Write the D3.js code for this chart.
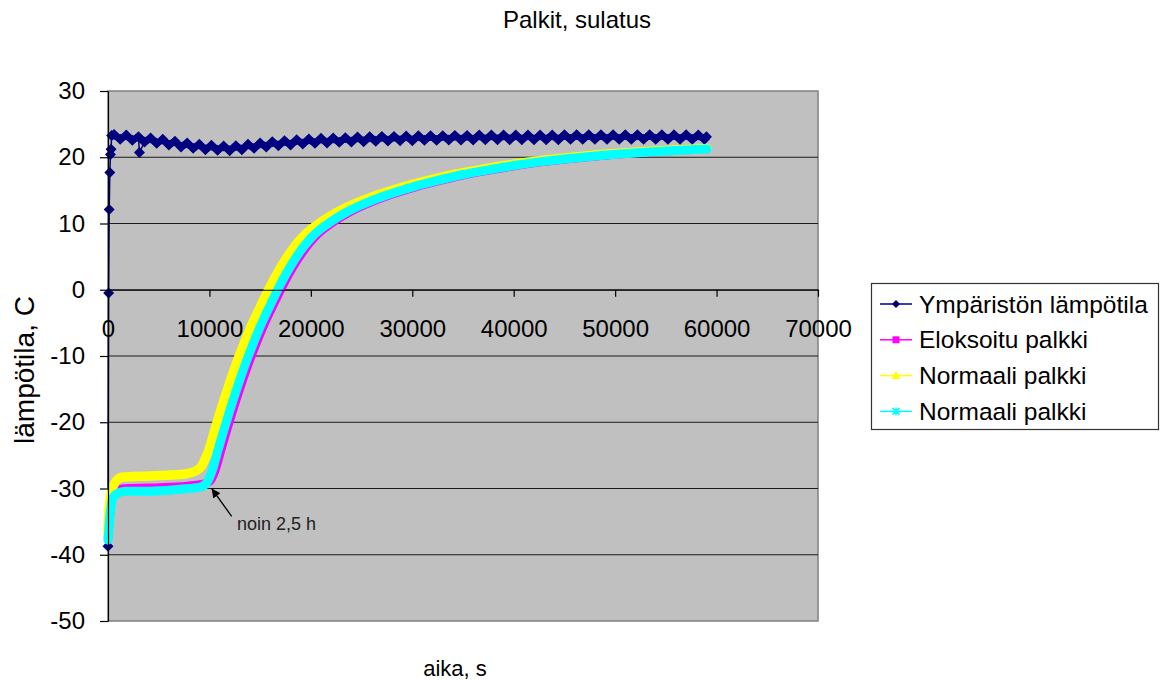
<!DOCTYPE html>
<html>
<head>
<meta charset="utf-8">
<script src="https://cdn.jsdelivr.net/npm/d3@7"></script>
<style>
  html, body { margin: 0; padding: 0; background: #fff; }
  svg { display: block; font-family: "Liberation Sans", Arial, sans-serif; }
</style>
</head>
<body>
<svg id="chart" width="1161" height="680"></svg>
<script>
// Tick values
const xTicks = [0, 10000, 20000, 30000, 40000, 50000, 60000, 70000];
const yTicks = [-50, -40, -30, -20, -10, 0, 10, 20, 30];

// Ambient temperature (s, °C)
const ambientTime = [0, 60, 120, 180, 240, 300, 360,
  600, 1200, 1800, 2400, 3000, 3100, 3600, 4200, 4800, 5400, 6000, 6600, 7200, 7800,
  8400, 9000, 9600, 10200, 10800, 11400, 12000, 12600, 13200, 13800, 14400, 15000,
  15600, 16200, 16800, 17400, 18000, 18600, 19200, 19800, 20400, 21000, 21600, 22200,
  22800, 23400, 24000, 24600, 25200, 25800, 26400, 27000, 27600, 28200, 28800, 29400,
  30000, 30600, 31200, 31800, 32400, 33000, 33600, 34200, 34800, 35400, 36000, 36600,
  37200, 37800, 38400, 39000, 39600, 40200, 40800, 41400, 42000, 42600, 43200, 43800,
  44400, 45000, 45600, 46200, 46800, 47400, 48000, 48600, 49200, 49800, 50400, 51000,
  51600, 52200, 52800, 53400, 54000, 54600, 55200, 55800, 56400, 57000, 57600, 58200,
  58800, 59000];
const ambientTemp = [-38.7, -0.5, 12.1, 17.7, 20.4, 21.2, 23.3,
  23.45, 22.70, 23.35, 22.55, 23.1, 20.7, 22.3, 22.9, 22.1, 22.7, 21.85, 22.4, 21.55, 22.15,
  21.35, 21.95, 21.15, 21.8, 21.05, 21.7, 21.0, 21.75, 21.15, 21.95, 21.35, 22.15,
  21.55, 22.35, 21.75, 22.5, 21.85, 22.65, 22.0, 22.75, 22.1, 22.85, 22.15, 22.9,
  22.25, 22.95, 22.3, 23.05, 22.35, 23.1, 22.4, 23.15, 22.45, 23.15, 22.5, 23.2,
  22.5, 23.25, 22.55, 23.25, 22.55, 23.25, 22.6, 23.3, 22.6, 23.3, 22.6, 23.35,
  22.65, 23.35, 22.65, 23.35, 22.65, 23.35, 22.65, 23.35, 22.65, 23.35, 22.65, 23.35,
  22.65, 23.4, 22.7, 23.4, 22.7, 23.4, 22.7, 23.4, 22.7, 23.4, 22.7, 23.4,
  22.7, 23.4, 22.7, 23.4, 22.7, 23.4, 22.7, 23.4, 22.7, 23.4, 22.7, 23.35,
  22.7, 23.1];

// Anodised beam (s, °C)
const eloxTime = [0, 150, 450, 990, 1680, 4140, 7100, 9070, 10060, 10550, 11150, 11740,
  12400, 13100, 13800, 14600, 15500, 16400, 17300, 18200, 19300, 20300, 21300, 22300,
  23800, 25300, 27800, 30300, 32800, 35300, 37800, 40300, 42800, 45300, 47800, 50300,
  52800, 55300, 57800, 59060];
const eloxTemp = [-37.5, -34.5, -31.0, -30.2, -30.0, -29.9, -29.7, -29.4, -28.9, -27.4, -24.2, -21.1,
  -17.8, -14.5, -11.4, -8.2, -4.9, -2.0, 0.8, 3.3, 5.9, 7.8, 9.2, 10.3,
  11.7, 12.8, 14.3, 15.5, 16.5, 17.4, 18.1, 18.75, 19.3, 19.75, 20.12, 20.45,
  20.72, 20.94, 21.13, 21.2];

// Normal beam, first sensor (s, °C)
const normalATime = [0, 100, 400, 790, 1380, 4140, 7100, 8580, 9240, 9760, 9950, 10540,
  11200, 11900, 12600, 13400, 14300, 15200, 16100, 17000, 18100, 19100, 20100, 21100,
  22600, 24100, 26600, 29100, 31600, 34100, 36600, 39100, 41600, 44100, 46600, 49100,
  51600, 54100, 56600, 59060];
const normalATemp = [-36.8, -33.2, -30.2, -28.9, -28.3, -28.1, -27.9, -27.4, -26.6, -24.9, -24.2, -21.1,
  -17.8, -14.5, -11.4, -8.2, -4.9, -2.0, 0.8, 3.3, 5.9, 7.8, 9.2, 10.3,
  11.7, 12.8, 14.3, 15.5, 16.5, 17.4, 18.1, 18.75, 19.3, 19.75, 20.12, 20.45,
  20.72, 20.94, 21.13, 21.28];

// Normal beam, second sensor (s, °C)
const normalBTime = [0, 200, 490, 990, 1680, 4140, 7100, 9070, 9760, 10250, 10850, 11440,
  12100, 12800, 13500, 14300, 15200, 16100, 17000, 17900, 19000, 20000, 21000, 22000,
  23500, 25000, 27500, 30000, 32500, 35000, 37500, 40000, 42500, 45000, 47500, 50000,
  52500, 55000, 57500, 59060];
const normalBTemp = [-37.8, -34.0, -31.4, -30.7, -30.4, -30.4, -30.1, -29.8, -29.1, -27.4, -24.2, -21.1,
  -17.8, -14.5, -11.4, -8.2, -4.9, -2.0, 0.8, 3.3, 5.9, 7.8, 9.2, 10.3,
  11.7, 12.8, 14.3, 15.5, 16.5, 17.4, 18.1, 18.75, 19.3, 19.75, 20.12, 20.45,
  20.72, 20.94, 21.13, 21.23];

const seriesNames = ["Ympäristön lämpötila", "Eloksoitu palkki", "Normaali palkki", "Normaali palkki"];
const seriesColors = ["#000080", "#FF00FF", "#FFFF00", "#00FFFF"];

const zip = (ts, vs) => ts.map((t, i) => ({ t, v: vs[i] }));

const svg = d3.select("#chart");
const plot = { left: 108, right: 818, top: 91, bottom: 621 };

const x = d3.scaleLinear().domain([0, 70000]).range([plot.left, plot.right]);
const y = d3.scaleLinear().domain([-50, 30]).range([plot.bottom, plot.top]);

// Title
svg.append("text")
  .attr("x", 577).attr("y", 28)
  .attr("text-anchor", "middle")
  .attr("font-size", 24)
  .text("Palkit, sulatus");

// Plot background
svg.append("rect")
  .attr("x", plot.left).attr("y", plot.top)
  .attr("width", plot.right - plot.left).attr("height", plot.bottom - plot.top)
  .attr("fill", "#C0C0C0")
  .attr("stroke", "#808080").attr("stroke-width", 1.5);

// Horizontal gridlines
svg.append("g")
  .selectAll("line")
  .data(yTicks.filter(d => d > -50 && d < 30))
  .join("line")
  .attr("x1", plot.left).attr("x2", plot.right)
  .attr("y1", d => y(d)).attr("y2", d => y(d))
  .attr("stroke", "#1a1a1a").attr("stroke-width", 1.2);

// Ambient series: thin connecting line, dense diamond band
const straight = d3.line().x(d => x(d.t)).y(d => y(d.v));
const smooth = d3.line().x(d => x(d.t)).y(d => y(d.v)).curve(d3.curveMonotoneX);

const ambient = zip(ambientTime, ambientTemp);
svg.append("path")
  .datum(ambient)
  .attr("d", straight)
  .attr("fill", "none")
  .attr("stroke", seriesColors[0]).attr("stroke-width", 1.5);
svg.append("path")
  .datum(ambient.filter(d => d.t >= 360 && d.t !== 3100))
  .attr("d", straight)
  .attr("fill", "none")
  .attr("stroke", seriesColors[0]).attr("stroke-width", 7)
  .attr("stroke-linejoin", "round");

const diamond = "M0,-5.5L5.5,0L0,5.5L-5.5,0Z";
svg.append("g")
  .selectAll("path")
  .data(ambient)
  .join("path")
  .attr("d", diamond)
  .attr("transform", d => `translate(${x(d.t)},${y(d.v)})`)
  .attr("fill", seriesColors[0]);

// Beam temperature bands
const bands = [
  { data: zip(eloxTime, eloxTemp), color: seriesColors[1], w: 8.5 },
  { data: zip(normalATime, normalATemp), color: seriesColors[2], w: 9.5 },
  { data: zip(normalBTime, normalBTemp), color: seriesColors[3], w: 9 }
];
bands.forEach(b => {
  svg.append("path")
    .datum(b.data)
    .attr("d", smooth)
    .attr("fill", "none")
    .attr("stroke", b.color)
    .attr("stroke-width", b.w)
    .attr("stroke-linejoin", "round")
    .attr("stroke-linecap", "round");
});

// Axes
const fmt = d => String(d);
const xAxis = svg.append("g")
  .attr("transform", `translate(0,${y(0)})`)
  .call(d3.axisBottom(x).tickValues(xTicks).tickSize(7).tickSizeOuter(0).tickPadding(23).tickFormat(fmt));
const yAxis = svg.append("g")
  .attr("transform", `translate(${plot.left},0)`)
  .call(d3.axisLeft(y).tickValues(yTicks).tickSize(8).tickSizeOuter(0).tickPadding(15).tickFormat(fmt));

[xAxis, yAxis].forEach(g => {
  g.selectAll("text").attr("font-size", 24).attr("fill", "#000")
    .attr("font-family", "'Liberation Sans', Arial, sans-serif");
  g.selectAll("line").attr("stroke", "#000").attr("stroke-width", 1.2);
  g.select(".domain").attr("stroke", "#000").attr("stroke-width", 1.2);
});

// Axis titles
svg.append("text")
  .attr("x", 455).attr("y", 676)
  .attr("text-anchor", "middle")
  .attr("font-size", 22)
  .text("aika, s");
svg.append("text")
  .attr("transform", "translate(34,370) rotate(-90)")
  .attr("text-anchor", "middle")
  .attr("font-size", 28)
  .text("lämpötila, C");

// Annotation with arrow
svg.append("defs").append("marker")
  .attr("id", "arrowhead")
  .attr("viewBox", "0 0 10 10")
  .attr("refX", 10).attr("refY", 5)
  .attr("markerWidth", 9).attr("markerHeight", 9)
  .attr("markerUnits", "userSpaceOnUse")
  .attr("orient", "auto")
  .append("path").attr("d", "M0,0L10,5L0,10Z").attr("fill", "#000");

svg.append("line")
  .attr("x1", x(12190)).attr("y1", y(-34.2))
  .attr("x2", x(10220)).attr("y2", y(-30))
  .attr("stroke", "#000").attr("stroke-width", 1.3)
  .attr("marker-end", "url(#arrowhead)");
svg.append("text")
  .attr("x", x(12720)).attr("y", y(-36.3))
  .attr("font-size", 18)
  .attr("fill", "#222")
  .text("noin 2,5 h");

// Legend
const legend = svg.append("g");
legend.append("rect")
  .attr("x", 871.5).attr("y", 283.5).attr("width", 287).attr("height", 146)
  .attr("fill", "#fff").attr("stroke", "#333").attr("stroke-width", 1.2);

const markerPaths = [
  "M0,-4L4,0L0,4L-4,0Z",
  "M-3.5,-3.5H3.5V3.5H-3.5Z",
  "M0,-4.5L4.5,3.5H-4.5Z",
  "M-3.5,-3.5L3.5,3.5M3.5,-3.5L-3.5,3.5M0,-4V4"
];
const rows = legend.selectAll("g.row")
  .data(seriesNames)
  .join("g")
  .attr("class", "row")
  .attr("transform", (d, i) => `translate(0,${304 + i * 35.8})`);
rows.append("line")
  .attr("x1", 880).attr("x2", 912)
  .attr("stroke", (d, i) => seriesColors[i]).attr("stroke-width", 1.5);
rows.append("path")
  .attr("d", (d, i) => markerPaths[i])
  .attr("transform", "translate(896,0)")
  .attr("fill", (d, i) => i === 3 ? "none" : seriesColors[i])
  .attr("stroke", (d, i) => seriesColors[i])
  .attr("stroke-width", (d, i) => i === 3 ? 1.5 : 0);
rows.append("text")
  .attr("x", 919).attr("y", 0).attr("dy", "0.35em")
  .attr("font-size", 24.5)
  .text(d => d);
</script>
</body>
</html>
